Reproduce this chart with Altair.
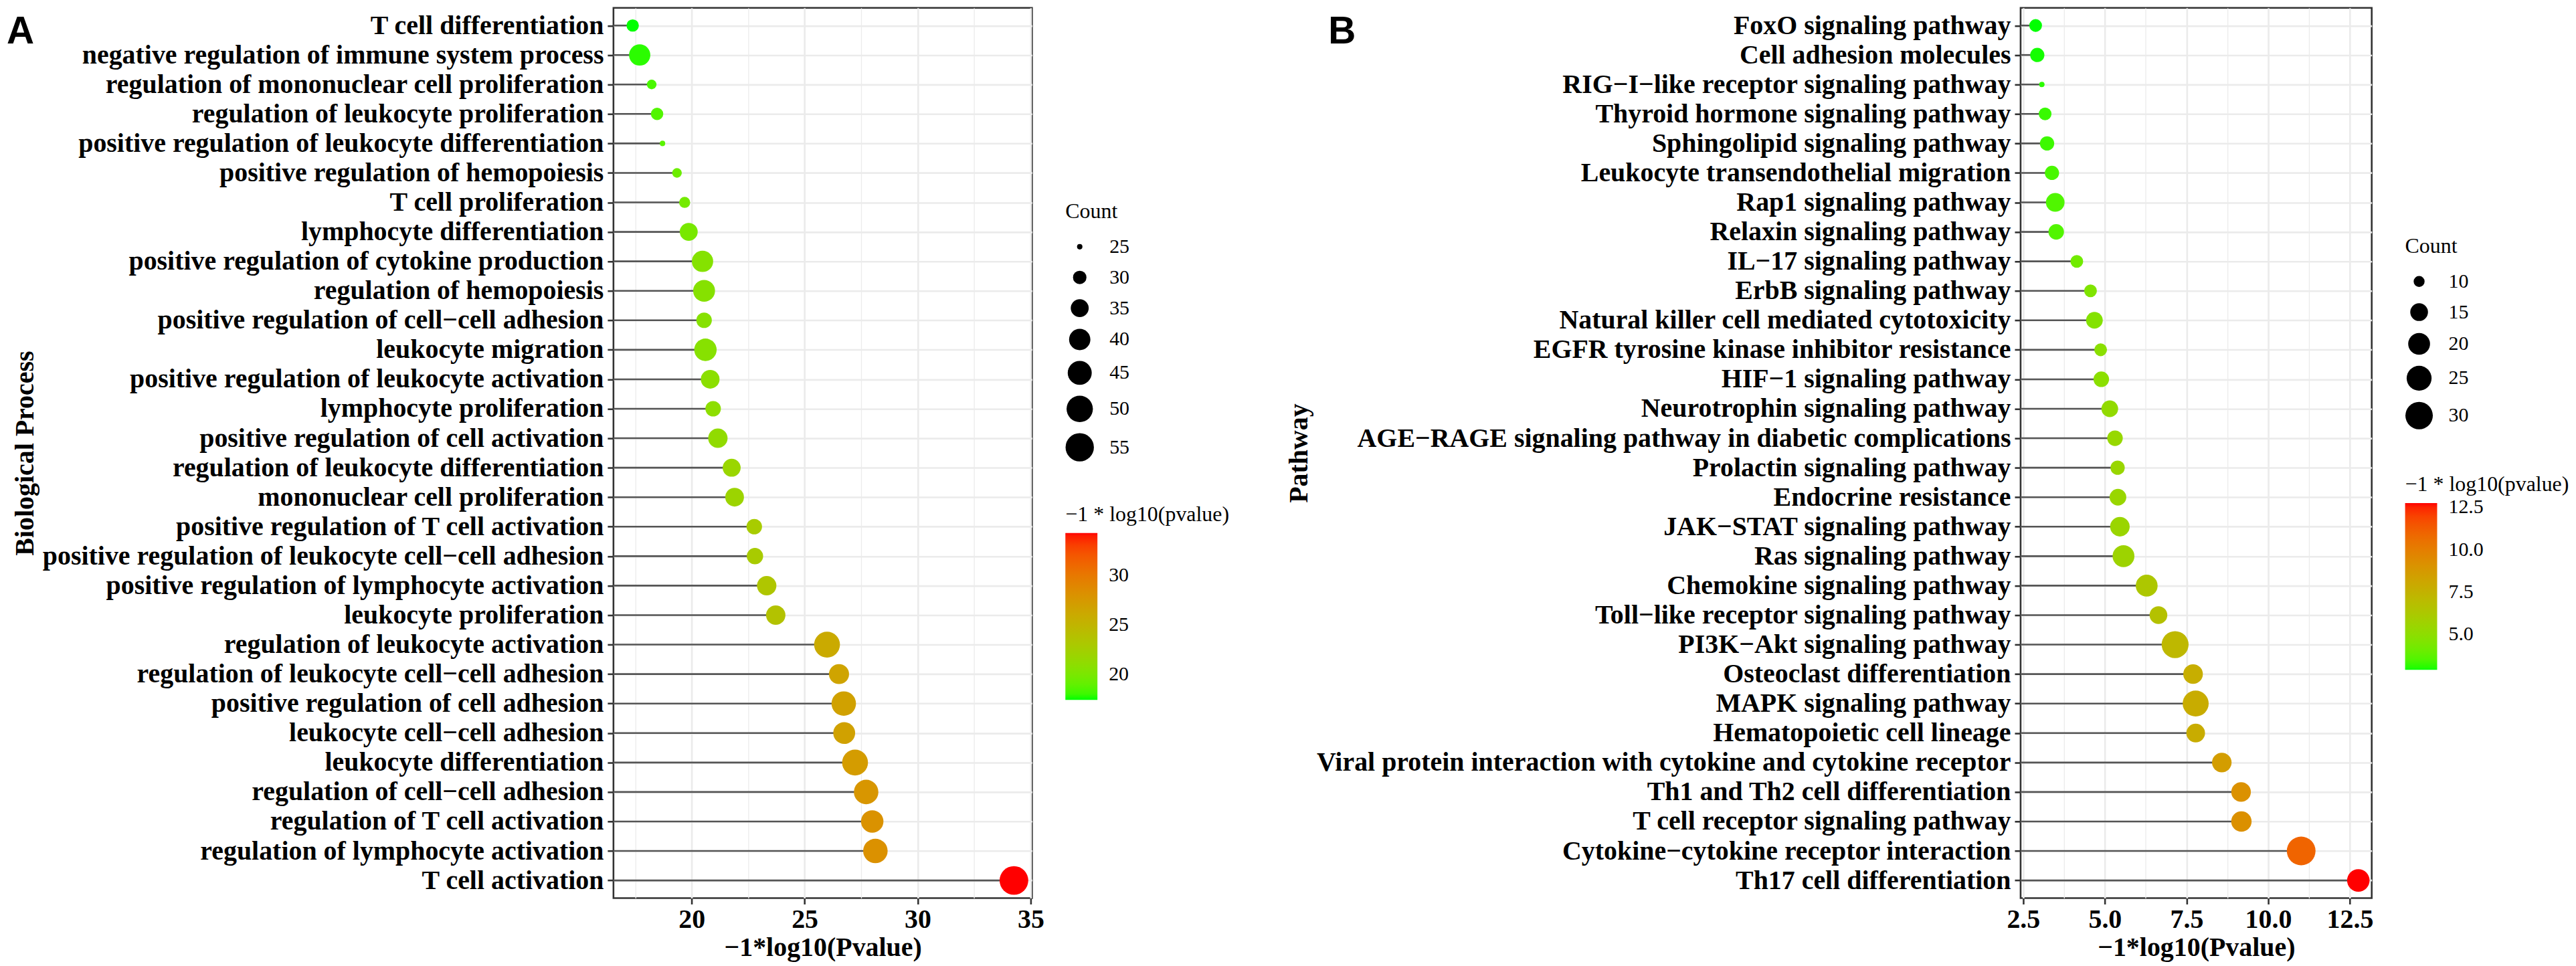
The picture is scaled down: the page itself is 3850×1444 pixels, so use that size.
import altair as alt
import pandas as pd

# ---------------- data ----------------
bp_terms = [
    "T cell differentiation",
    "negative regulation of immune system process",
    "regulation of mononuclear cell proliferation",
    "regulation of leukocyte proliferation",
    "positive regulation of leukocyte differentiation",
    "positive regulation of hemopoiesis",
    "T cell proliferation",
    "lymphocyte differentiation",
    "positive regulation of cytokine production",
    "regulation of hemopoiesis",
    "positive regulation of cell\u2212cell adhesion",
    "leukocyte migration",
    "positive regulation of leukocyte activation",
    "lymphocyte proliferation",
    "positive regulation of cell activation",
    "regulation of leukocyte differentiation",
    "mononuclear cell proliferation",
    "positive regulation of T cell activation",
    "positive regulation of leukocyte cell\u2212cell adhesion",
    "positive regulation of lymphocyte activation",
    "leukocyte proliferation",
    "regulation of leukocyte activation",
    "regulation of leukocyte cell\u2212cell adhesion",
    "positive regulation of cell adhesion",
    "leukocyte cell\u2212cell adhesion",
    "leukocyte differentiation",
    "regulation of cell\u2212cell adhesion",
    "regulation of T cell activation",
    "regulation of lymphocyte activation",
    "T cell activation",
]
bp_logp = [17.39, 17.70, 18.23, 18.47, 18.71, 19.35, 19.69, 19.87, 20.48, 20.55,
           20.55, 20.61, 20.82, 20.95, 21.16, 21.77, 21.90, 22.77, 22.80, 23.32,
           23.72, 25.99, 26.52, 26.73, 26.75, 27.23, 27.72, 27.99, 28.13, 34.26]
bp_count = [29, 40, 27, 29, 25, 27, 28, 35, 40, 41,
            32, 42, 36, 32, 37, 35, 36, 32, 33, 37,
            37, 49, 38, 46, 41, 49, 46, 42, 46, 56]

kegg_terms = [
    "FoxO signaling pathway",
    "Cell adhesion molecules",
    "RIG\u2212I\u2212like receptor signaling pathway",
    "Thyroid hormone signaling pathway",
    "Sphingolipid signaling pathway",
    "Leukocyte transendothelial migration",
    "Rap1 signaling pathway",
    "Relaxin signaling pathway",
    "IL\u221217 signaling pathway",
    "ErbB signaling pathway",
    "Natural killer cell mediated cytotoxicity",
    "EGFR tyrosine kinase inhibitor resistance",
    "HIF\u22121 signaling pathway",
    "Neurotrophin signaling pathway",
    "AGE\u2212RAGE signaling pathway in diabetic complications",
    "Prolactin signaling pathway",
    "Endocrine resistance",
    "JAK\u2212STAT signaling pathway",
    "Ras signaling pathway",
    "Chemokine signaling pathway",
    "Toll\u2212like receptor signaling pathway",
    "PI3K\u2212Akt signaling pathway",
    "Osteoclast differentiation",
    "MAPK signaling pathway",
    "Hematopoietic cell lineage",
    "Viral protein interaction with cytokine and cytokine receptor",
    "Th1 and Th2 cell differentiation",
    "T cell receptor signaling pathway",
    "Cytokine\u2212cytokine receptor interaction",
    "Th17 cell differentiation",
]
kegg_logp = [2.88, 2.93, 3.07, 3.17, 3.23, 3.38, 3.48, 3.51, 4.14, 4.56,
             4.68, 4.87, 4.89, 5.15, 5.31, 5.39, 5.40, 5.46, 5.57, 6.28,
             6.64, 7.15, 7.70, 7.78, 7.78, 8.58, 9.17, 9.18, 11.01, 12.76]
kegg_count = [11, 12, 8, 11, 12, 12, 16, 13, 11, 11,
              14, 11, 13, 14, 13, 12, 14, 17, 20, 20,
              15, 29, 17, 27, 16, 17, 17, 18, 33, 21]

panel_letters = ["A", "B"]
y_titles = ["Biological Process", "Pathway"]
x_title = "\u22121*log10(Pvalue)"
color_title = "\u22121 * log10(pvalue)"
size_title = "Count"

bp_size_breaks = [25, 30, 35, 40, 45, 50, 55]
kegg_size_breaks = [10, 15, 20, 25, 30]
bp_color_breaks = [20, 25, 30]
kegg_color_breaks = [5.0, 7.5, 10.0, 12.5]

bp_x_ticks = [17.5, 20, 22.5, 25, 27.5, 30, 32.5, 35]
kegg_x_ticks = [2.5, 3.75, 5.0, 6.25, 7.5, 8.75, 10.0, 11.25, 12.5]

SERIF = "Liberation Serif"
SANS = "Liberation Sans"
PLOT_H = 1334


def make_panel(terms, logp, count, y_title, letter, width, x_domain, x_ticks,
               step, fmt, letter_x, legend_x, size_legend_y, color_legend_y,
               size_breaks, color_breaks, color_fmt):
    df = pd.DataFrame({"term": terms, "logp": logp, "count": count})
    test = f"datum.value % {step} === 0"
    x_axis = alt.Axis(
        values=x_ticks,
        labelExpr=f"{test} ? format(datum.value, '{fmt}') : ''",
        title=x_title,
        labelFont=SERIF, labelFontSize=40, labelFontWeight="bold", labelColor="black",
        labelFlush=False, labelOverlap=False, labelPadding=3,
        titleFont=SERIF, titleFontSize=40, titleFontWeight="bold", titleColor="black",
        titlePadding=2,
        domain=False, grid=True, gridColor="#EBEBEB",
        gridWidth={"condition": {"test": test, "value": 2.6}, "value": 1.3},
        tickColor="#333333", tickWidth=2.6, tickSize=9,
        tickOpacity={"condition": {"test": test, "value": 1}, "value": 0},
    )
    x = alt.X("logp:Q", scale=alt.Scale(domain=x_domain, nice=False, zero=False), axis=x_axis)
    y = alt.Y(
        "term:N", sort=terms,
        scale=alt.Scale(type="point", padding=0.6),
        axis=alt.Axis(
            title=y_title,
            labelFont=SERIF, labelFontSize=40, labelFontWeight="bold", labelColor="black",
            labelLimit=3000, labelPadding=6, maxExtent=3000,
            titleFont=SERIF, titleFontSize=40, titleFontWeight="bold", titleColor="black",
            titlePadding=6,
            domain=False, grid=True, gridColor="#EBEBEB", gridWidth=2.6,
            tickColor="#333333", tickWidth=2.6, tickSize=9,
        ),
    )
    base = alt.Chart(df)
    stems = base.mark_rule(color="#555555", strokeWidth=2.6).encode(
        x=x, x2=alt.value(0), y=y
    )
    dots = base.mark_circle(opacity=1, strokeWidth=0).encode(
        x=x, y=y,
        size=alt.Size(
            "count:Q",
            scale=alt.Scale(type="sqrt", zero=False, range=[66, 1849]),
            legend=alt.Legend(
                title=size_title, orient="none", legendX=legend_x, legendY=size_legend_y,
                values=size_breaks, symbolType="circle", symbolFillColor="black",
                symbolStrokeWidth=0, symbolOpacity=1,
                titleFont=SERIF, titleFontSize=32, titleFontWeight="normal", titleColor="black",
                titlePadding=21, titleLimit=1000,
                labelFont=SERIF, labelFontSize=30, labelColor="black", labelOffset=23,
                rowPadding=16, padding=0,
            ),
        ),
        color=alt.Color(
            "logp:Q",
            scale=alt.Scale(range=["#00FF00", "#FF0000"], interpolate="lab", zero=False, nice=False),
            legend=alt.Legend(
                title=color_title, orient="none", legendX=legend_x, legendY=color_legend_y,
                direction="vertical", gradientLength=250, gradientThickness=48,
                gradientStrokeWidth=0, values=color_breaks, format=color_fmt,
                titleFont=SERIF, titleFontSize=32, titleFontWeight="normal", titleColor="black",
                titlePadding=11, titleLimit=1000,
                labelFont=SERIF, labelFontSize=30, labelColor="black", labelOffset=17,
                labelOverlap=False, padding=0,
            ),
        ),
    )
    tag = alt.Chart(alt.Data(values=[{"letter": letter}])).mark_text(
        font=SANS, fontSize=57, fontWeight="bold", align="left", baseline="alphabetic",
        color="black",
    ).encode(x=alt.value(letter_x), y=alt.value(53), text="letter:N")
    return alt.layer(stems, dots, tag).properties(width=width, height=PLOT_H)


panel_a = make_panel(
    bp_terms, bp_logp, bp_count, y_titles[0], panel_letters[0], 627,
    [16.54, 35.06], bp_x_ticks, 5, "d",
    letter_x=-909, legend_x=677, size_legend_y=290, color_legend_y=744,
    size_breaks=bp_size_breaks, color_breaks=bp_color_breaks, color_fmt="d",
)
panel_b = make_panel(
    kegg_terms, kegg_logp, kegg_count, y_titles[1], panel_letters[1], 526,
    [2.42, 13.17], kegg_x_ticks, 2.5, ".1f",
    letter_x=-1037, legend_x=576, size_legend_y=342, color_legend_y=699,
    size_breaks=kegg_size_breaks, color_breaks=kegg_color_breaks, color_fmt=".1f",
)

chart = (
    alt.hconcat(panel_a, panel_b, spacing=1481, bounds="flush")
    .resolve_scale(x="independent", y="independent", color="independent", size="independent")
    .configure_view(stroke="#333333", strokeWidth=2.6)
    .properties(padding=0, background="white")
)

chart.save("out.html", embed_options={"renderer": "svg", "actions": False})
